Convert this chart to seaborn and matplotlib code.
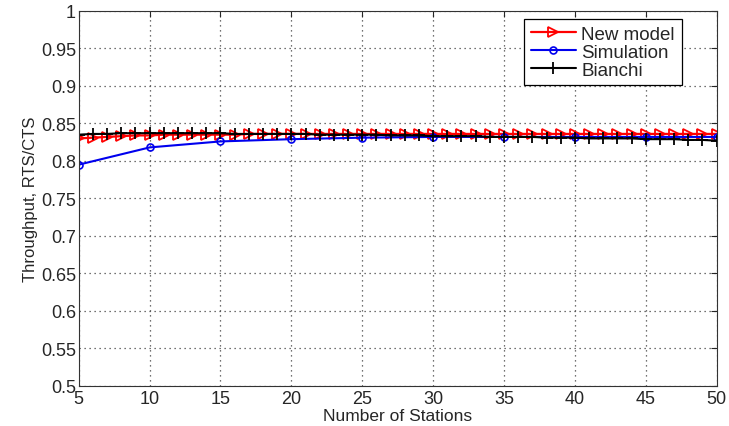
import matplotlib
matplotlib.use('Agg')
import matplotlib.pyplot as plt
import seaborn as sns
import numpy as np

# data
stations = list(range(5, 51))
new_model = [0.830, 0.831, 0.832, 0.833, 0.834, 0.834, 0.835, 0.835, 0.835, 0.835,
             0.835, 0.835, 0.836, 0.836, 0.836, 0.836, 0.836, 0.836, 0.836, 0.836,
             0.836, 0.836, 0.836, 0.836, 0.836, 0.836, 0.836, 0.836, 0.836, 0.836,
             0.836, 0.836, 0.836, 0.836, 0.836, 0.836, 0.836, 0.836, 0.836, 0.836,
             0.836, 0.836, 0.836, 0.836, 0.836, 0.836]
bianchi = [0.835, 0.836, 0.836, 0.837, 0.837, 0.837, 0.837, 0.837, 0.837, 0.837,
           0.837, 0.836, 0.836, 0.836, 0.836, 0.836, 0.836, 0.835, 0.835, 0.835,
           0.835, 0.835, 0.834, 0.834, 0.834, 0.833, 0.833, 0.833, 0.833, 0.832,
           0.832, 0.832, 0.832, 0.831, 0.831, 0.831, 0.830, 0.830, 0.830, 0.830,
           0.829, 0.829, 0.829, 0.828, 0.828, 0.827]
sim_stations = [5, 10, 15, 20, 25, 30, 35, 40, 45, 50]
simulation = [0.795, 0.818, 0.826, 0.829, 0.831, 0.832, 0.832, 0.832, 0.832, 0.832]

xticks = list(range(5, 51, 5))
yticks = [0.5, 0.55, 0.6, 0.65, 0.7, 0.75, 0.8, 0.85, 0.9, 0.95, 1.0]
ytick_labels = ['0.5', '0.55', '0.6', '0.65', '0.7', '0.75', '0.8', '0.85', '0.9', '0.95', '1']

sns.set_style('white')
plt.rcParams['font.family'] = ['Liberation Sans', 'DejaVu Sans']

fig = plt.figure(figsize=(7.29, 4.27), dpi=100)
ax = fig.add_axes([0.108, 0.094, 0.875, 0.878])

sns.lineplot(x=stations, y=new_model, color='red', marker='>', markersize=6.5,
             mfc='none', mec='red', mew=1.3, linewidth=1.6, label='New model', ax=ax)
sns.lineplot(x=sim_stations, y=simulation, color='#0000ee', marker='o', markersize=5,
             mfc='none', mec='#0000ee', mew=1.2, linewidth=1.5, label='Simulation', ax=ax)
sns.lineplot(x=stations, y=bianchi, color='black', marker='+', markersize=8,
             mec='black', mew=1.3, linewidth=1.5, label='Bianchi', ax=ax)

ax.set_xlim(5, 50)
ax.set_ylim(0.5, 1.0)
ax.set_xticks(xticks)
ax.set_yticks(yticks)
ax.set_yticklabels(ytick_labels)
ax.tick_params(direction='in', labelsize=13, top=True, right=True, length=4, pad=2)
ax.tick_params(axis='x', pad=3)
ax.grid(True, linestyle=(0, (1, 3)), color='#444444', linewidth=0.9)
for s in ax.spines.values():
    s.set_color('#333333')
    s.set_linewidth(0.8)

ax.set_xlabel('Number of Stations', fontsize=12.5, labelpad=0.5)
ax.set_ylabel('Throughput, RTS/CTS', fontsize=12, labelpad=2)

leg = ax.legend(loc='upper right', bbox_to_anchor=(0.945, 0.979), fontsize=13.5,
                frameon=True, fancybox=False, edgecolor='black', borderaxespad=0,
                handlelength=2.4, handletextpad=0.3, labelspacing=0.05,
                borderpad=0.35, framealpha=1, numpoints=1)
leg.get_frame().set_linewidth(0.9)

fig.savefig('out.png', dpi=100)
